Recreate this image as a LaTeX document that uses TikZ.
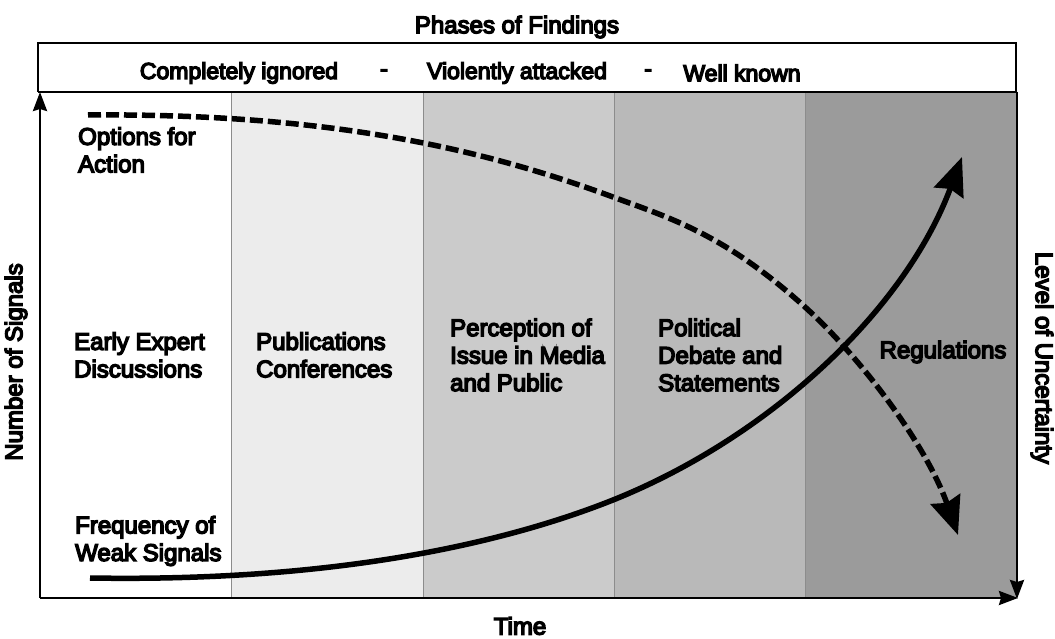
\documentclass[tikz,border=0pt]{standalone}
\usepackage{fontspec}
\setmainfont{Liberation Sans}[FakeBold=6]
\usepackage{xcolor}
\usetikzlibrary{arrows.meta, positioning}

\definecolor{bandB}{HTML}{ECECEC}
\definecolor{bandC}{HTML}{CBCBCB}
\definecolor{bandD}{HTML}{B9B9B9}
\definecolor{bandE}{HTML}{9B9B9B}

\begin{document}
\begin{tikzpicture}[
  x=1pt, y=-1pt,
  lbl/.style={font=\fontsize{24}{27.5}\selectfont, align=left, inner sep=0pt},
  hdr/.style={font=\fontsize{23}{27.5}\selectfont, inner sep=0pt},
  axis/.style={line width=2.6pt, -{Stealth[length=19pt, width=14pt, inset=2pt]}},
  sep/.style={line width=0.8pt, gray!90},
  trend/.style={line width=5.5pt, -{Stealth[length=38pt, width=31pt, inset=4pt]}},
]
  \useasboundingbox (0,0) rectangle (1055,639);

  % phase bands
  \foreach \xa/\xb/\col in {231/423/bandB, 423/614/bandC, 614/805/bandD, 805/1017/bandE}
    \fill[\col] (\xa,92) rectangle (\xb,598);
  \foreach \xx in {231,423,614,805}
    \draw[sep] (\xx,92) -- (\xx,598);

  % header
  \draw[line width=1.8pt] (38,92) -- (38,43) -- (1016,43) -- (1016,92);
  \draw[line width=2.6pt] (38,92) -- (1017,92);
  \node[lbl] (title)    at (517,27)  {Phases of Findings};
  \node[hdr] (ignored)  at (239,73)  {Completely ignored};
  \node[hdr] (dashA)    at (384,73)  {-};
  \node[hdr] (attacked) at (517,73)  {Violently attacked};
  \node[hdr] (dashB)    at (648,73)  {-};
  \node[hdr] (known)    at (742,73)  {Well known};

  % axes
  \coordinate (orig) at (40,598);
  \coordinate (ytop) at (40,92);
  \coordinate (xend) at (1018,598);
  \coordinate (rtop) at (1017,92);
  \draw[axis] (orig) -- (ytop);
  \draw[axis] (orig) -- (xend);
  \draw[axis] (rtop) -- (1017,599);

  \node[lbl] (time)   at (520,626) {Time};
  \node[lbl, rotate=90]  (nsig) at (16,362)   {Number of Signals};
  \node[lbl, rotate=-90] (unc)  at (1042,358) {Level of Uncertainty};

  % phase labels
  \node[lbl, anchor=west] (options) at (78,150)  {Options for\\Action};
  \node[lbl, anchor=west] (early)   at (74,355)  {Early Expert\\Discussions};
  \node[lbl, anchor=west] (pubs)    at (256,355) {Publications\\Conferences};
  \node[lbl, anchor=west] (percep)  at (450,355) {Perception of\\Issue in Media\\and Public};
  \node[lbl, anchor=west] (debate)  at (658,355) {Political\\Debate and\\Statements};
  \node[lbl] (regs) at (943,352) {Regulations};
  \node[lbl, anchor=west] (freq)    at (75,541)  {Frequency of\\Weak Signals};

  % curves
  \coordinate (optA) at (88,115);
  \coordinate (optB) at (958,535);
  \coordinate (sigA) at (90,578);
  \coordinate (sigB) at (962,157);
  \draw[trend, dash pattern=on 13pt off 5pt] (optA)
    .. controls (330,113) and (483,149) .. (613,197)
    .. controls (673,219) and (725,235) .. (805,307)
    .. controls (860,357) and (926,444) .. (optB);
  \draw[trend] (sigA)
    .. controls (330,582) and (500,545) .. (613,500)
    .. controls (770,437) and (905,310) .. (sigB);
\end{tikzpicture}
\end{document}
